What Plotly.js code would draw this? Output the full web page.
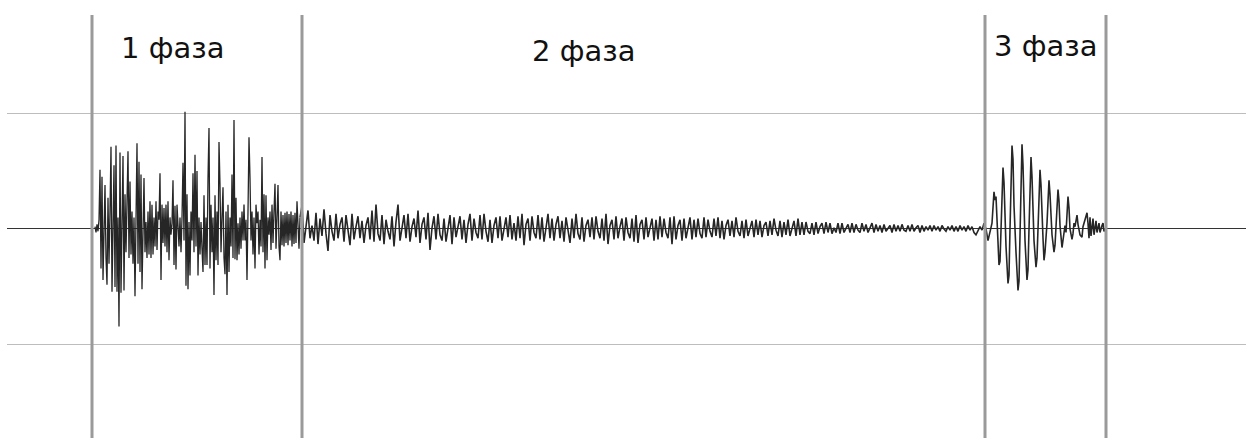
<!DOCTYPE html>
<html>
<head>
<meta charset="utf-8">
<script src="https://cdn.plot.ly/plotly-3.0.1.min.js"></script>
<style>
  html, body { margin: 0; padding: 0; background: #ffffff; }
  #chart { width: 1246px; height: 438px; }
</style>
</head>
<body>
<div id="chart"></div>
<script>
// ---- DATA (time in samples, amplitude in relative units; gridlines at ±100) ----
const phaseLabels = ["1 фаза", "2 фаза", "3 фаза"];
const phaseBounds = [92, 302, 985, 1106];

// Phase 1: sampled every 1 time unit, starting at t = 95
const phase1Start = 95;
const phase1Step = 1;
const phase1Values = [
  2, -3, 4, -2, 8, 51, -34, 45, -44, 20,
  38, -25, -48, 27, -30, 15, 71, -54, 30, 55,
  -50, 72, -54, 10, -84, 66, -55, 20, 63, -53,
  30, -20, 40, 67, -25, 41, -22, 15, -30, 10,
  -58, 20, 74, -30, 58, -37, 47, -52, 10, 44,
  -20, 6, -25, 15, -22, 24, -25, 21, -22, 10,
  -15, 24, -18, 15, 8, 48, -44, 21, -12, 18,
  -15, 21, -20, 24, -27, 10, -5, 5, 42, -31,
  20, -35, 21, 6, -15, 10, -20, 10, 57, -10,
  101, -49, 30, -52, 6, -40, 15, -10, 48, -20,
  64, -15, 50, -40, 10, -22, 6, -17, -37, 29,
  -31, 10, -31, 44, 87, -34, 21, -20, 10, -57,
  29, -27, 15, -31, 75, 38, -20, 10, 36, -25,
  -39, 15, -57, 21, -37, 10, -15, 47, -25, 94,
  -26, 27, -27, 5, -22, 10, -17, 15, -10, 21,
  -10, 8, -44, 15, 79, 44, -10, 15, -22, 10,
  -34, 21, 5, 15, -22, 8, -15, 62, -20, 30,
  -34, 29, -27, 10, -5, 15, -18, 21, -12, 15,
  39, -17, 10, 38, -15, -27, 15, -14, 12, -15,
  14, -12, 15, -14, 13, -10, 15, -15, 12, -13,
  14, -12, 24, -8, -17, 10
];

// Phase 2: sampled every 2 time units, starting at t = 302
const phase2Start = 302;
const phase2Step = 2;
const phase2Values = [
  20, -12, 5, 16, -8, 3, -10, 14, -13, 9,
  -6, 17, -4, -19, 12, -2, -10, 13, -8, 4,
  10, -11, 12, -3, -14, 13, -9, 2, 11, -8,
  7, -12, 3, 10, -9, 16, -11, 21, -4, -10,
  12, -13, 8, -2, -9, 11, -15, 6, 21, -10,
  3, 12, -8, 13, -11, 2, 9, -7, 16, -12,
  4, 10, -9, 14, -18, 1, 11, -9, 13, -5,
  -10, 9, -11, 3, 12, -13, 10, -7, 2, 11,
  -9, 8, -12, 4, 13, -10, 9, -3, -8, 12,
  -9, 13, -2, -11, 8, -12, 3, 10, -8, 11,
  -10, 2, 10, -7, 12, -9, 5, -10, 11, -8,
  13, -14, 4, 9, -10, 11, -3, -8, 12, -9,
  10, -11, 2, 13, -8, 9, -10, 4, 11, -8,
  7, -11, 10, -2, -12, 9, -8, 13, -4, -9,
  10, -11, 3, 8, -7, 10, -9, 11, -2, -8,
  9, -10, 13, -13, 3, 8, -9, 11, -8, 2,
  9, -10, 10, -3, -8, 9, -11, 12, -12, 4,
  8, -9, 10, -7, 2, 9, -10, 8, -9, 11,
  -7, 9, -3, -8, 10, -13, 11, -9, 3, 8,
  -10, 9, -8, 2, 10, -9, 8, -7, 9, -4,
  -8, 10, -7, 8, -2, -7, 9, -6, 10, -8,
  7, -9, 3, 8, -6, 7, -7, 10, -2, -6,
  7, -8, 8, -6, 2, 7, -7, 8, -5, 7,
  -7, 3, 6, -6, 7, -5, 9, -1, -6, 7,
  -7, 6, -5, 8, -6, 2, 7, -6, 9, -5,
  6, -5, 6, -2, -4, 5, -5, 6, -4, 2,
  5, -4, 6, -3, 5, -4, 1, -3, 5, -4,
  5, -3, 1, 4, -3, 5, -3, 4, -1, -3,
  5, -2, 4, -3, 1, 5, -3, 4, -2, 3,
  -3, 4, -2, 1, 3, -3, 4, -2, 3, -2,
  4, -1, -2, 3, -2, 4, -2, 1, 3, -3,
  3, -2, 2, -1, 3, -2, 3, -1, 2, -2,
  3, 0, -2, 2, -1, 3, -2, 2, -2, 3,
  -1, 2, -2, 3, -1, 2, -3, -5, -2, 2,
  -1, 5
];

// Phase 3: read as turning points (time, amplitude)
const phase3Times = [
  986, 988, 990, 992, 994, 995, 996, 997, 999, 1000,
  1001, 1003, 1004, 1005, 1006, 1008, 1009, 1010, 1012, 1013,
  1014, 1016, 1018, 1019, 1020, 1022, 1023, 1024, 1025, 1027,
  1028, 1029, 1031, 1032, 1033, 1034, 1036, 1037, 1038, 1040,
  1041, 1042, 1043, 1044, 1045, 1047, 1049, 1050, 1051, 1052,
  1054, 1055, 1056, 1058, 1059, 1060, 1062, 1063, 1065, 1066,
  1068, 1069, 1070, 1072, 1073, 1074, 1075, 1077, 1078, 1080,
  1082, 1083, 1085, 1087, 1088, 1089, 1090, 1091, 1093, 1094,
  1096, 1097, 1099, 1100, 1102, 1103, 1104, 1106, 1107
];
const phase3Values = [
  0, -10, -3, 5, 32, 25, 28, 5, -31, -28,
  0, 53, 40, 10, -15, -47, -40, 0, 72, 60,
  20, -20, -53, -45, 0, 73, 55, 15, -10, -44,
  -35, 0, 62, 45, 10, -10, -33, -25, 0, 51,
  38, 8, -8, -27, -20, 5, 42, 30, 5, -5,
  -20, -14, 2, 34, 24, 3, -16, -10, 3, -3,
  28, 18, 0, -9, -4, 5, 2, 12, 4, -5,
  -7, 2, 8, 14, 5, -8, 10, -6, 9, -5,
  7, -3, 5, -3, 3, 5, -2, 1, 0
];

// ---- BUILD ----
const p1x = phase1Values.map((v, i) => phase1Start + i * phase1Step);
const p2x = [p1x[p1x.length - 1]].concat(phase2Values.map((v, i) => phase2Start + i * phase2Step));
const p2y = [phase1Values[phase1Values.length - 1]].concat(phase2Values);
const p3x = [p2x[p2x.length - 1]].concat(phase3Times);
const p3y = [p2y[p2y.length - 1]].concat(phase3Values);

function seg(x, y, w) {
  return {
    x: x, y: y, type: 'scatter', mode: 'lines',
    line: { color: '#262626', width: w },
    hoverinfo: 'skip', showlegend: false
  };
}
const traces = [seg(p1x, phase1Values, 1.3), seg(p2x, p2y, 1.6), seg(p3x, p3y, 1.6)];

const labelX = [172, 583, 1045];
const labelY = [0.922, 0.916, 0.926];

const layout = {
  width: 1246, height: 438,
  margin: { l: 7, r: 0, t: 15, b: 0 },
  paper_bgcolor: '#ffffff', plot_bgcolor: '#ffffff',
  showlegend: false,
  xaxis: {
    range: [7, 1246], showgrid: false, zeroline: false,
    showticklabels: false, showline: false, ticks: ''
  },
  yaxis: {
    range: [-180.2, 184.5], tickvals: [-100, 100], showticklabels: false,
    showgrid: true, gridcolor: '#bdbdbd', gridwidth: 1,
    zeroline: true, zerolinecolor: '#333333', zerolinewidth: 1,
    showline: false, ticks: ''
  },
  shapes: phaseBounds.map(b => ({
    type: 'line', xref: 'x', yref: 'paper', x0: b, x1: b, y0: 0, y1: 1,
    line: { color: '#9a9a9a', width: 3 }, layer: 'above'
  })),
  annotations: phaseLabels.map((t, i) => ({
    text: t, x: labelX[i], y: labelY[i], xref: 'x', yref: 'paper',
    xanchor: 'center', yanchor: 'middle', showarrow: false,
    font: { family: 'DejaVu Sans, Verdana, sans-serif', size: 29, color: '#111111' }
  }))
};

Plotly.newPlot('chart', traces, layout, { staticPlot: true, displayModeBar: false });
</script>
</body>
</html>
